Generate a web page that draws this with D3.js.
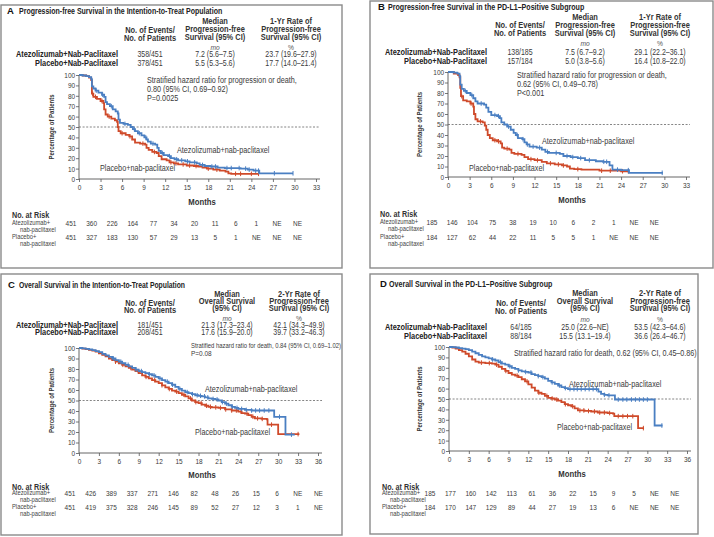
<!DOCTYPE html>
<html><head><meta charset="utf-8">
<script src="https://cdn.jsdelivr.net/npm/d3@7"></script>
<style>
body{margin:0;background:#fff}
svg{display:block}
text{font-family:'Liberation Sans',Arial,sans-serif;fill:#2b2b2b}
</style>
</head><body>
<svg id="c" width="714" height="537"></svg>
<script>
// ---------------- DATA ----------------
const monthTicksPFS = [0,3,6,9,12,15,18,21,24,27,30,33];
const monthTicksOS  = [0,3,6,9,12,15,18,21,24,27,30,33,36];
const pctTicks = [0,10,20,30,40,50,60,70,80,90,100];
const groups = ["Atezolizumab+Nab-Paclitaxel","Placebo+Nab-Paclitaxel"];
const curveLabels = ["Atezolizumab+nab-paclitaxel","Placebo+nab-paclitaxel"];
const riskLabels = [["Atezolizumab+","nab-paclitaxel"],["Placebo+","nab-paclitaxel"]];

const titles = [
  "Progression-free Survival in the Intention-to-Treat Population",
  "Progression-free Survival in the PD-L1–Positive Subgroup",
  "Overall Survival in the Intention-to-Treat Population",
  "Overall Survival in the PD-L1–Positive Subgroup"
];
const headersPFS = [["No. of Events/","No. of Patients"],["Median","Progression-free","Survival (95% CI)"],["1-Yr Rate of","Progression-free","Survival (95% CI)"]];
const headersOS  = [["No. of Events/","No. of Patients"],["Median","Overall Survival","(95% CI)"],["2-Yr Rate of","Progression-free","Survival (95% CI)"]];
const units = ["mo","%"];

const tableA = [["358/451","7.2 (5.6–7.5)","23.7 (19.6–27.9)"],["378/451","5.5 (5.3–5.6)","17.7 (14.0–21.4)"]];
const tableB = [["138/185","7.5 (6.7–9.2)","29.1 (22.2–36.1)"],["157/184","5.0 (3.8–5.6)","16.4 (10.8–22.0)"]];
const tableC = [["181/451","21.3 (17.3–23.4)","42.1 (34.3–49.9)"],["208/451","17.6 (15.9–20.0)","39.7 (33.2–46.3)"]];
const tableD = [["64/185","25.0 (22.6–NE)","53.5 (42.3–64.6)"],["88/184","15.5 (13.1–19.4)","36.6 (26.4–46.7)"]];

const hrA = ["Stratified hazard ratio for progression or death,","0.80 (95% CI, 0.69–0.92)","P=0.0025"];
const hrB = ["Stratified hazard ratio for progression or death,","0.62 (95% CI, 0.49–0.78)","P<0.001"];
const hrC = ["Stratified hazard ratio for death, 0.84 (95% CI, 0.69–1.02)","P=0.08"];
const hrD = ["Stratified hazard ratio for death, 0.62 (95% CI, 0.45–0.86)"];

// Kaplan-Meier step points [month, percent]
const pfsITTAtezo = [[0,100],[0.5,99.5],[1,99],[1.4,98],[1.7,96],[1.8,89],[2,87],[2.3,85],[2.7,83],[3.2,81],[3.5,79],[3.7,74],[3.9,72],[4.3,70],[4.7,67],[5.1,65],[5.4,63],[5.5,57],[5.7,54],[6.2,53],[6.8,52],[7.2,50],[7.5,48],[7.8,46],[8.2,44],[8.7,42],[9.1,40],[9.4,38],[9.6,36],[10.0,34],[10.6,33],[10.9,30],[11.1,27],[11.4,25],[11.8,23],[12.4,22],[12.8,20],[13.3,19],[13.8,18],[14.8,17],[15.4,16],[16.4,15],[16.8,13.5],[17.5,12.5],[18.3,12],[19.3,11],[20.3,10.5],[22.5,10],[23.5,9],[24.3,8],[25.1,5.5],[29.8,5.5]];
const pfsITTPlacebo = [[0,100],[0.5,99.5],[1,99],[1.4,97.5],[1.7,95],[1.8,82],[2,79],[2.5,77],[3,75],[3.4,73],[3.5,67],[3.7,62],[4,60],[4.5,58],[5,56.5],[5.3,55],[5.4,50],[5.5,46],[5.8,44],[6.5,42.5],[7,41],[7.4,38],[7.8,35],[8.5,34],[9.2,33],[9.4,30],[9.7,28],[10.2,26],[10.8,25],[11.1,22],[11.5,19],[12.2,18],[12.6,16],[13.2,15],[13.8,14],[15,13],[16,12.5],[16.6,12],[17.2,11],[17.8,10],[18.7,9],[19.6,8],[20.4,7],[20.8,5.5],[21.2,5],[25,5]];
const pfsPDL1Atezo = [[0,100],[0.8,99.5],[1.3,98.5],[1.6,96],[1.7,88],[1.9,84],[2.2,82],[2.6,80],[3.1,78],[3.5,75],[3.8,72],[4.1,70],[5,69],[5.3,66],[5.6,62],[6,59],[6.8,58],[7.2,56],[7.4,52],[7.8,50],[8.2,48],[8.7,45],[9.1,42],[9.4,40],[9.7,37],[10.3,36],[10.6,33],[10.9,31],[11.3,29],[12.3,28],[13,26],[13.5,24],[14,23],[15.5,22],[16,20],[17,19],[18,18],[19,16],[20.5,15],[21.5,14.5],[22.4,11],[22.8,7],[24,6.5],[25.1,4],[29.8,4]];
const pfsPDL1Placebo = [[0,100],[0.8,98.5],[1.4,97],[1.6,95],[1.7,85],[1.8,77],[2.1,73],[2.6,72],[3.1,70],[3.5,67],[3.6,60],[3.8,55],[4.1,53],[4.8,52],[5.1,49],[5.3,45],[5.5,40],[5.8,37],[6.2,35],[6.8,34],[7.3,32],[7.5,28],[7.8,27],[8.5,26],[8.8,23],[9.2,22],[10.2,21],[10.6,19],[11.1,17],[12,16],[13,14.5],[13.7,13],[14.8,12],[15.8,11],[16.5,10],[16.9,8],[17.5,7.5],[18.5,7],[21,6],[24,5.5],[25,5.5]];
const osITTAtezo = [[0,100],[0.5,99.6],[1,99.2],[1.5,98.7],[2,98],[2.5,97],[3,96],[3.5,94.5],[4,93],[4.5,91.5],[5,90],[5.5,88.5],[6,87],[6.5,85.5],[7,84],[7.5,82.5],[8,81],[8.5,79.5],[9,78],[9.5,77],[10,76],[10.5,75],[11,74],[11.5,72.5],[12,71],[12.5,69.5],[13,68],[13.5,66.5],[14,65],[14.5,63],[15,61],[15.5,59.5],[16,58],[16.5,57],[17,56],[17.5,55],[18,54.5],[18.5,54],[19,53],[19.5,52],[20,51.5],[20.5,51],[21,50],[21.5,48.5],[22,47],[22.5,45.5],[23,44],[23.5,43],[24,42],[25,41],[26,40.5],[29.3,40.5],[29.4,34.5],[31,34.5],[31.1,17.5],[32.5,17.5]];
const osITTPlacebo = [[0,100],[0.5,99.5],[1,99],[1.5,98.3],[2,97.5],[2.5,96.5],[3,95],[3.5,93.5],[4,92],[4.5,90],[5,88.5],[5.5,87],[6,85.5],[6.5,84],[7,82.5],[7.5,81],[8,79.5],[8.5,78],[9,76],[9.5,74],[10,72.5],[10.5,71],[11,69.5],[11.5,68],[12,66.5],[12.5,64.5],[13,62.5],[13.5,61],[14,59.5],[14.5,58.5],[15,57],[15.5,55.5],[16,54],[16.5,52],[17,50],[17.5,48.5],[18,47.5],[18.5,46],[19,45],[19.5,44],[20,43.5],[21,43],[22,41.5],[23,40.5],[24,39.5],[24.5,38],[25,37.5],[25.5,36],[26,34.5],[26.5,33],[27.5,32.5],[28.3,32],[28.4,27],[29.9,27],[30,18],[33.2,18]];
const osPDL1Atezo = [[0,100],[0.5,99.8],[1,99.5],[1.5,99],[2,98.5],[2.5,98],[3,97],[3.5,95.5],[4,94],[4.5,92.5],[5,91],[5.5,90],[6,89],[6.5,88],[7,87],[7.5,85.5],[8,84],[8.5,83],[9,81.5],[9.5,80],[10,79],[10.5,77.5],[11,76.5],[11.5,76],[12,75.5],[12.5,74],[13,73],[13.5,72],[14,71],[14.5,69.5],[15,67.5],[15.5,66],[16,64.5],[16.5,63],[17,61.5],[17.5,60.5],[18,59.5],[22.4,59.5],[22.6,57],[23,55],[23.5,54],[24,53.5],[25,53.5],[25.1,49.5],[31,49.5],[31.1,24.5],[32.3,24.5]];
const osPDL1Placebo = [[0,100],[0.5,99.5],[1,98.5],[1.5,97],[2,95.5],[2.5,93.5],[3,91],[3.5,88],[4,86],[4.5,85],[5.5,84.5],[6.5,84],[7,83],[7.5,81],[8,79],[8.5,77],[9,75],[9.5,73.5],[10,72.5],[10.5,71],[11,69],[11.5,67],[12,64],[12.5,61],[13,58],[13.5,56],[14,55],[14.5,53],[15,51],[15.5,50.5],[16,49.5],[16.5,48.5],[17,47],[17.5,45],[18,44],[18.5,43],[19,41],[19.5,39],[20.5,38.5],[21.5,38],[22.5,37],[24,36.5],[24.8,36],[25,33.5],[28.5,33.5],[28.6,22],[29.5,22]];

// censoring times (months)
const censorPfsITTAtezo = [2.4,3.3,4.5,6.4,7.7,8.4,9.3,10.3,11.6,12.6,13.6,14.3,15.1,16.1,17.2,18.5,19.0,20.6,21.2,22.3,23.2,23.7,24.6,25.0,27.2,29.8];
const censorPfsITTPlacebo = [1.9,2.3,3.2,4.2,6.0,7.1,8.9,10.5,12.8,13.5,14.5,15.4,16.3,18.0,19.2,21.8,22.5,24.0,25.0];
const censorPfsPDL1Atezo = [2.4,3.3,4.6,6.5,7.0,8.4,9.6,10.4,11.0,11.8,12.7,13.8,15.0,16.5,17.3,18.4,19.6,21.6,22.0,23.5,25.0,29.7];
const censorPfsPDL1Placebo = [1.9,3.2,4.5,6.5,7.0,8.2,9.7,11.5,12.4,14.2,15.3,16.0,18.0,21.3,22.5,24.2,25.0];
const censorOsITTAtezo = [5.2,6.3,7.4,8.6,9.4,10.6,11.3,12.2,13.3,14.1,15.2,16.3,17.1,17.8,18.3,18.9,19.4,20.2,20.8,21.6,22.2,23.1,23.8,24.5,25.2,26.0,26.6,27.2,27.9,28.6,30.2,32.0];
const censorOsITTPlacebo = [5.5,6.6,7.8,8.9,10.1,11.4,12.5,13.6,14.7,15.8,16.8,17.6,18.4,19.2,19.8,20.6,21.3,22.1,23.0,23.7,24.4,25.3,26.2,26.9,27.6,29.0,33.0];
const censorOsPDL1Atezo = [6.6,7.8,9.2,10.5,11.6,12.4,13.5,14.2,15.6,16.7,17.6,18.3,18.9,19.4,20.0,20.6,21.2,21.8,22.3,23.5,24.2,25.6,26.3,26.9,27.6,28.2,28.8,29.4,30.0,32.2];
const censorOsPDL1Placebo = [4.9,6.1,7.2,8.6,10.3,11.8,13.6,14.8,15.6,16.3,17.6,18.7,19.8,20.4,21.1,22.0,22.8,23.5,24.3,25.6,26.3,27.0,27.8,29.4];

// numbers at risk
const riskPfsITT = [["451","360","226","164","77","34","20","11","6","1","NE","NE"],["451","327","183","130","57","29","13","5","1","NE","NE","NE"]];
const riskPfsPDL1 = [["185","146","104","75","38","19","10","6","2","1","NE","NE"],["184","127","62","44","22","11","5","5","1","NE","NE","NE"]];
const riskOsITT = [["451","426","389","337","271","146","82","48","26","15","6","NE","NE"],["451","419","375","328","246","145","89","52","27","12","3","1","NE"]];
const riskOsPDL1 = [["185","177","160","142","113","61","36","22","15","9","5","NE","NE"],["184","170","147","129","89","44","27","19","13","6","NE","NE","NE"]];

// ---------------- LAYOUT ----------------
const BLUE = "#4a7fc2", RED = "#cf4a2a";
const panels = [
 {letter:"A", title:titles[0], headers:headersPFS, table:tableA, hr:hrA, hrW:[150], curves:[pfsITTAtezo,pfsITTPlacebo], censors:[censorPfsITTAtezo,censorPfsITTPlacebo], risk:riskPfsITT, ticks:monthTicksPFS,
  box:[1,5,342,268], letterX:7, titleX:19, titleY:11, titleW:203,
  colX:[150,215,291], rowRight:118, hLines:[[30,38],[21,29,37],[21,29,37]], unitY:47, rowY:[54,63],
  hrX:147, hrY:[80,89,98], hrSize:8.5,
  x0:79, x1:316, xMax:33, yTop:75, yBot:179, ylabX:52,
  lab:[[177,150],[100,168]],
  monthsX:202, monthsY:202, riskTitleY:215, riskX:12, riskRowY:[223,237], riskNum0:71, riskStep:20.6},
 {letter:"B", title:titles[1], headers:headersPFS, table:tableB, hr:hrB, hrW:[150], curves:[pfsPDL1Atezo,pfsPDL1Placebo], censors:[censorPfsPDL1Atezo,censorPfsPDL1Placebo], risk:riskPfsPDL1, ticks:monthTicksPFS,
  box:[370,1,713,268], letterX:378, titleX:388, titleY:7, titleW:196,
  colX:[520,585,660], rowRight:487, hLines:[[25.5,33.5],[17,25,33],[17,25,33]], unitY:43, rowY:[52,61],
  hrX:517, hrY:[75,84,93], hrSize:8.5,
  x0:448, x1:686, xMax:33, yTop:72, yBot:177, ylabX:420,
  lab:[[542,141],[469,168]],
  monthsX:572, monthsY:200, riskTitleY:214, riskX:380, riskRowY:[222,237], riskNum0:432, riskStep:20.2},
 {letter:"C", title:titles[2], headers:headersOS, table:tableC, hr:hrC, hrW:[150], curves:[osITTAtezo,osITTPlacebo], censors:[censorOsITTAtezo,censorOsITTPlacebo], risk:riskOsITT, ticks:monthTicksOS,
  box:[1,274,342,535], letterX:8, titleX:19, titleY:285, titleW:166,
  colX:[150,227,299], rowRight:118, hLines:[[303,310.5],[294,301,308],[294,301,308]], unitY:318, rowY:[325,332.5],
  hrX:191, hrY:[345,353], hrSize:7.6,
  x0:79, x1:318, xMax:36, yTop:348, yBot:453, ylabX:52,
  lab:[[205,389],[195,432]],
  monthsX:202, monthsY:475, riskTitleY:487, riskX:12, riskRowY:[493,507], riskNum0:70, riskStep:20.7},
 {letter:"D", title:titles[3], headers:headersOS, table:tableD, hr:hrD, hrW:[183], curves:[osPDL1Atezo,osPDL1Placebo], censors:[censorOsPDL1Atezo,censorOsPDL1Placebo], risk:riskOsPDL1, ticks:monthTicksOS,
  box:[370,274,698,534], letterX:380, titleX:389, titleY:284, titleW:163,
  colX:[521,585,660], rowRight:487, hLines:[[303,311],[293,301,308.5],[293,301,308.5]], unitY:319, rowY:[327,336],
  hrX:514, hrY:[353], hrSize:8.5,
  x0:449, x1:687, xMax:36, yTop:347, yBot:451, ylabX:420,
  lab:[[569,384],[557,427]],
  monthsX:572, monthsY:474, riskTitleY:487, riskX:382, riskRowY:[493,507], riskNum0:430, riskStep:20.4}
];

const svg = d3.select("#c");
svg.append("rect").attr("width",714).attr("height",537).attr("fill","#fff");

function measure(s, size, weight) {
  const t = svg.append("text").style("font-size",size+"px").style("font-weight",weight||400).text(s);
  const w = t.node().getComputedTextLength(); t.remove(); return w;
}
// horizontal condensing calibrated on reference text widths
const SX_REG = 150 / measure(hrA[0], 8.5, 400);
const SX_BOLD = 102 / measure(groups[0], 8.4, 700);

function txt(g, x, y, s, o={}) {
  const size = o.size || 8.5;
  let sx = o.sx !== undefined ? o.sx : (o.weight ? SX_BOLD : SX_REG);
  if (o.w) sx = o.w / measure(s, size, o.weight || 400);
  const t = g.append("text").attr("x",0).attr("y",0).attr("dy","0.35em").text(s)
    .attr("transform",`translate(${x},${y})${o.rot?" rotate("+o.rot+")":""} scale(${sx},1)`)
    .style("font-size",size+"px");
  if (o.anchor) t.attr("text-anchor",o.anchor);
  if (o.weight) t.style("font-weight",o.weight);
  if (o.italic) t.style("font-style","italic");
  if (o.fill) t.style("fill",o.fill);
  return t;
}

function stepAt(pts, t) {
  let s = pts[0][1];
  for (const p of pts) { if (p[0] <= t) s = p[1]; else break; }
  return s;
}

panels.forEach(p => {
  const g = svg.append("g");
  g.append("rect").attr("x",p.box[0]).attr("y",p.box[1]).attr("width",p.box[2]-p.box[0]).attr("height",p.box[3]-p.box[1])
    .attr("fill","none").attr("stroke","#8a8a8a").attr("stroke-width",1.4);
  txt(g, p.letterX, p.titleY, p.letter, {size:9.5, weight:700, sx:1, fill:"#111"});
  txt(g, p.titleX, p.titleY, p.title, {size:8.4, weight:700, fill:"#222", w:p.titleW});

  // header table
  p.headers.forEach((lines,ci) => lines.forEach((l,li) => txt(g, p.colX[ci], p.hLines[ci][li], l, {size:8.5, weight:700, anchor:"middle", fill:"#333"})));
  txt(g, p.colX[1], p.unitY, units[0], {size:7.8, italic:true, anchor:"middle", fill:"#555"});
  txt(g, p.colX[2], p.unitY, units[1], {size:7.8, anchor:"middle", fill:"#555"});
  groups.forEach((gname,ri) => {
    txt(g, p.rowRight, p.rowY[ri], gname, {size:8.4, weight:700, anchor:"end", fill:"#222"});
    p.table[ri].forEach((v,ci) => txt(g, p.colX[ci], p.rowY[ri], v, {size:8.2, anchor:"middle", fill:"#3a3a3a"}));
  });
  p.hr.forEach((l,i) => txt(g, p.hrX, p.hrY[i], l, {size:p.hrSize, fill:"#3a3a3a", w: i===0 ? p.hrW[0] : undefined}));

  // scales
  const x = d3.scaleLinear().domain([0,p.xMax]).range([p.x0,p.x1]);
  const y = d3.scaleLinear().domain([0,100]).range([p.yBot,p.yTop]);

  // axes
  const ya = g.append("g").attr("transform",`translate(${p.x0},0)`)
    .call(d3.axisLeft(y).tickValues(pctTicks).tickSize(3).tickSizeOuter(0).tickPadding(1.5));
  const xa = g.append("g").attr("transform",`translate(0,${p.yBot})`)
    .call(d3.axisBottom(x).tickValues(p.ticks).tickSize(3).tickSizeOuter(0).tickPadding(3));
  [ya,xa].forEach(a => {
    a.select(".domain").remove();
    a.selectAll(".tick line").attr("stroke","#555").attr("stroke-width",0.8);
    a.selectAll(".tick text").style("font-size","7.6px").style("fill","#3a3a3a")
      .attr("transform",`scale(${SX_REG},1)`);
  });
  g.append("line").attr("x1",p.x0).attr("x2",p.x0).attr("y1",p.yBot).attr("y2",p.yTop).attr("stroke","#555").attr("stroke-width",0.9);
  g.append("line").attr("x1",p.x0).attr("x2",p.x1+4).attr("y1",p.yBot).attr("y2",p.yBot).attr("stroke","#555").attr("stroke-width",0.9);

  // 50% reference
  g.append("line").attr("x1",p.x0).attr("x2",p.x1+4).attr("y1",y(50)).attr("y2",y(50))
    .attr("stroke","#666").attr("stroke-width",0.8).attr("stroke-dasharray","2,1.6");

  // axis titles
  txt(g, p.ylabX, (p.yTop+p.yBot)/2, "Percentage of Patients", {size:6.9, weight:700, anchor:"middle", rot:-90, fill:"#333"});
  txt(g, p.monthsX, p.monthsY, "Months", {size:8.8, weight:700, anchor:"middle", fill:"#333"});

  // curves (placebo first, then atezolizumab on top)
  const line = d3.line().x(d=>x(d[0])).y(d=>y(d[1])).curve(d3.curveStepAfter);
  [1,0].forEach(k => {
    const col = k===0 ? BLUE : RED;
    g.append("path").attr("d",line(p.curves[k])).attr("fill","none").attr("stroke",col).attr("stroke-width",1.8);
    g.selectAll(null).data(p.censors[k]).join("line")
      .attr("x1",d=>x(d)).attr("x2",d=>x(d))
      .attr("y1",d=>y(stepAt(p.curves[k],d))-2.3).attr("y2",d=>y(stepAt(p.curves[k],d))+2.3)
      .attr("stroke",col).attr("stroke-width",1);
  });
  curveLabels.forEach((l,i) => txt(g, p.lab[i][0], p.lab[i][1], l, {size:8.5, fill:"#3a3a3a"}));

  // numbers at risk
  txt(g, p.riskX, p.riskTitleY, "No. at Risk", {size:8.2, weight:700, fill:"#333"});
  riskLabels.forEach((lab,ri) => {
    txt(g, p.riskX, p.riskRowY[ri], lab[0], {size:6.8, fill:"#444"});
    txt(g, p.riskX+8, p.riskRowY[ri]+6.5, lab[1], {size:6.8, fill:"#444"});
    p.risk[ri].forEach((v,i) => txt(g, p.riskNum0 + i*p.riskStep, p.riskRowY[ri], v, {size:7.6, anchor:"middle", fill:"#3a3a3a"}));
  });
});
</script>
</body></html>
